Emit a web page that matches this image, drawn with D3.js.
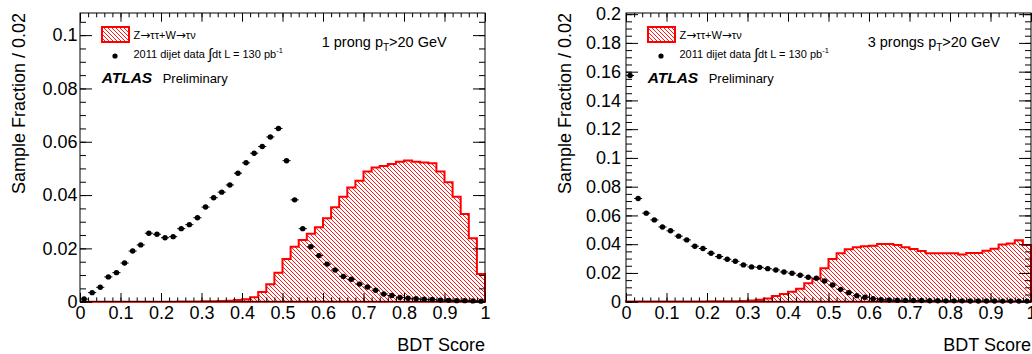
<!DOCTYPE html>
<html>
<head>
<meta charset="utf-8">
<script src="https://cdn.jsdelivr.net/npm/d3@7"></script>
<style>
body { margin: 0; background: #fff; }
svg { display: block; font-family: "Liberation Sans", Arial, sans-serif; }
</style>
</head>
<body>
<svg id="chart" width="1032" height="354"></svg>
<script>
const binWidth = 0.02;

// 1 prong, Z->tautau + W->taunu (hatched histogram)
const signal1p = [
    0, 0, 0, 0, 0, 0, 0, 0, 0, 0,
    0, 0, 0.0001, 0.0001, 0.0001, 0.0002, 0.0002, 0.0003, 0.0004, 0.0006,
    0.0009, 0.0017, 0.0036, 0.0065, 0.0109, 0.0160, 0.0206, 0.0231, 0.0255, 0.0279,
    0.0313, 0.0354, 0.0394, 0.0428, 0.0454, 0.0488, 0.0503, 0.0509, 0.0517, 0.0525,
    0.0530, 0.0525, 0.0522, 0.0519, 0.0488, 0.0448, 0.0394, 0.0329, 0.0238, 0.0104
];
// 1 prong, 2011 dijet data (points)
const data1p = [
    0.0010, 0.0034, 0.0054, 0.0093, 0.0109, 0.0145, 0.0190, 0.0213, 0.0257, 0.0253,
    0.0240, 0.0244, 0.0274, 0.0289, 0.0315, 0.0355, 0.0390, 0.0411, 0.0438, 0.0482,
    0.0521, 0.0557, 0.0582, 0.0618, 0.0650, 0.0529, 0.0382, 0.0274, 0.0206, 0.0173,
    0.0141, 0.0119, 0.0095, 0.0084, 0.0066, 0.0055, 0.0043, 0.0029, 0.0023, 0.0016,
    0.0013, 0.0011, 0.0009, 0.0008, 0.0006, 0.0005, 0.0004, 0.0004, 0.0003, 0.0002
];
// 3 prongs
const signal3p = [
    0.0001, 0.0001, 0.0001, 0.0001, 0.0001, 0.0001, 0.0002, 0.0002, 0.0002, 0.0002,
    0.0003, 0.0003, 0.0003, 0.0004, 0.0005, 0.0008, 0.0014, 0.0023, 0.0040, 0.0053,
    0.0070, 0.0090, 0.0128, 0.0158, 0.0232, 0.0297, 0.0337, 0.0365, 0.0379, 0.0386,
    0.0390, 0.0402, 0.0402, 0.0395, 0.0379, 0.0367, 0.0353, 0.0337, 0.0337, 0.0337,
    0.0337, 0.0328, 0.0339, 0.0339, 0.0355, 0.0369, 0.0397, 0.0404, 0.0427, 0.0395
];
const data3p = [
    0.1573, 0.0718, 0.0616, 0.0569, 0.0520, 0.0493, 0.0456, 0.0430, 0.0386, 0.0370,
    0.0337, 0.0314, 0.0295, 0.0281, 0.0256, 0.0242, 0.0239, 0.0230, 0.0221, 0.0207,
    0.0198, 0.0184, 0.0170, 0.0163, 0.0144, 0.0116, 0.0086, 0.0063, 0.0042, 0.0031,
    0.0021, 0.0014, 0.0012, 0.0010, 0.0009, 0.0008, 0.0008, 0.0007, 0.0007, 0.0006,
    0.0006, 0.0006, 0.0005, 0.0005, 0.0005, 0.0005, 0.0004, 0.0004, 0.0004, 0.0004
];

const xTicks = [0, 0.1, 0.2, 0.3, 0.4, 0.5, 0.6, 0.7, 0.8, 0.9, 1];
const xTickLabels = ["0", "0.1", "0.2", "0.3", "0.4", "0.5", "0.6", "0.7", "0.8", "0.9", "1"];
const yTicks1p = [0, 0.02, 0.04, 0.06, 0.08, 0.1];
const yTickLabels1p = ["0", "0.02", "0.04", "0.06", "0.08", "0.1"];
const yTicks3p = [0, 0.02, 0.04, 0.06, 0.08, 0.1, 0.12, 0.14, 0.16, 0.18, 0.2];
const yTickLabels3p = ["0", "0.02", "0.04", "0.06", "0.08", "0.1", "0.12", "0.14", "0.16", "0.18", "0.2"];

const svg = d3.select("#chart");

// hatch pattern, ROOT style "\\\\"
let pat = svg.append("defs").append("pattern")
    .attr("id", "hatch")
    .attr("patternUnits", "userSpaceOnUse")
    .attr("width", 4).attr("height", 4);
pat.append("path")
    .attr("d", "M-1,3 L1,5 M0,0 L4,4 M3,-1 L5,1")
    .attr("stroke", "#f00")
    .attr("stroke-width", 0.9);

function drawPanel(left, yMax, signal, data, yTicks, yLabels, labelPad, prongText)
{
    let top = 13, bottom = 301.7, width = 405;
    let g = svg.append("g");

    let x = d3.scaleLinear().domain([0, 1]).range([left, left + width]);
    let y = d3.scaleLinear().domain([0, yMax]).range([bottom, top]);

    //histogram outline + hatch
    let pts = [[0, 0]];
    signal.forEach((v, i) => {
        pts.push([i * binWidth, v]);
        pts.push([(i + 1) * binWidth, v]);
    });
    pts.push([1, 0]);
    let line = d3.line().x(d => x(d[0])).y(d => y(d[1]));

    g.append("path")
        .attr("d", line(pts) + "Z")
        .attr("fill", "url(#hatch)")
        .attr("stroke", "#f00")
        .attr("stroke-width", 2)
        .attr("stroke-linejoin", "miter");

    // axes, ticks inside the frame like ROOT
    let font = sel => sel.attr("font-size", 18).attr("font-family", "Liberation Sans, Arial, sans-serif");
    let xMinor = d3.range(0, 1.0001, 0.02);
    let yMinor = d3.range(0, yMax + 0.0001, 0.005);

    g.append("g").attr("transform", "translate(0," + bottom + ")")
        .call(d3.axisBottom(x).tickValues(xTicks).tickFormat((d, i) => xTickLabels[i])
            .tickSize(-8.7).tickPadding(4.5))
        .call(font).call(s => s.select(".domain").remove());
    g.append("g").attr("transform", "translate(0," + bottom + ")")
        .call(d3.axisBottom(x).tickValues(xMinor).tickFormat("").tickSize(-4.3))
        .call(s => s.select(".domain").remove());
    g.append("g").attr("transform", "translate(0," + top + ")")
        .call(d3.axisTop(x).tickValues(xTicks).tickFormat("").tickSize(-8.7))
        .call(s => s.select(".domain").remove());
    g.append("g").attr("transform", "translate(0," + top + ")")
        .call(d3.axisTop(x).tickValues(xMinor).tickFormat("").tickSize(-4.3))
        .call(s => s.select(".domain").remove());

    g.append("g").attr("transform", "translate(" + left + ",0)")
        .call(d3.axisLeft(y).tickValues(yTicks).tickFormat((d, i) => yLabels[i])
            .tickSize(-12).tickPadding(labelPad))
        .call(font).call(s => s.select(".domain").remove());
    g.append("g").attr("transform", "translate(" + left + ",0)")
        .call(d3.axisLeft(y).tickValues(yMinor).tickFormat("").tickSize(-6))
        .call(s => s.select(".domain").remove());
    g.append("g").attr("transform", "translate(" + (left + width) + ",0)")
        .call(d3.axisRight(y).tickValues(yTicks).tickFormat("").tickSize(-12))
        .call(s => s.select(".domain").remove());
    g.append("g").attr("transform", "translate(" + (left + width) + ",0)")
        .call(d3.axisRight(y).tickValues(yMinor).tickFormat("").tickSize(-6))
        .call(s => s.select(".domain").remove());

    g.append("rect")
        .attr("x", left).attr("y", top)
        .attr("width", width).attr("height", bottom - top)
        .attr("fill", "none").attr("stroke", "#000").attr("stroke-width", 1);

    // data points with bin-width error bars
    let pg = g.append("g");
    pg.selectAll("line").data(data).enter().append("line")
        .attr("x1", (d, i) => x(i * binWidth))
        .attr("x2", (d, i) => x((i + 1) * binWidth))
        .attr("y1", d => y(d)).attr("y2", d => y(d))
        .attr("stroke", "#000").attr("stroke-width", 1);
    pg.selectAll("circle").data(data).enter().append("circle")
        .attr("cx", (d, i) => x((i + 0.5) * binWidth))
        .attr("cy", d => y(d))
        .attr("r", 2.7)
        .attr("fill", "#000");

    // axis titles
    g.append("text")
        .attr("transform", "translate(" + (left - 55) + "," + top + ") rotate(-90)")
        .attr("text-anchor", "end")
        .attr("font-size", 18)
        .text("Sample Fraction / 0.02");
    g.append("text")
        .attr("x", left + width).attr("y", 351)
        .attr("text-anchor", "end")
        .attr("font-size", 18)
        .text("BDT Score");

    // legend
    g.append("rect")
        .attr("x", left + 22).attr("y", 27)
        .attr("width", 27).attr("height", 15)
        .attr("fill", "url(#hatch)").attr("stroke", "#f00").attr("stroke-width", 2);
    let z = g.append("text")
        .attr("x", left + 53.5).attr("y", 38.5)
        .attr("font-size", 11);
    let arrow = () => z.append("tspan").attr("font-family", "DejaVu Sans").attr("font-size", 12).text("\u2192");
    z.append("tspan").text("Z");
    arrow();
    z.append("tspan").text("\u03c4\u03c4+W");
    arrow();
    z.append("tspan").text("\u03c4\u03bd");

    g.append("circle")
        .attr("cx", left + 35).attr("cy", 56).attr("r", 2.6).attr("fill", "#000");
    let t = g.append("text")
        .attr("x", left + 53.5).attr("y", 57.5)
        .attr("font-size", 11);
    t.append("tspan").text("2011 dijet data ");
    t.append("tspan").attr("font-size", 15).attr("dy", 1).text("\u222b");
    t.append("tspan").attr("dy", -1).text("dt L = 130 pb");
    t.append("tspan").attr("font-size", 7.5).attr("dy", -5).text("-1");

    g.append("text")
        .attr("x", left + 21.7).attr("y", 82.5)
        .attr("font-size", 15.5)
        .attr("font-weight", "bold")
        .attr("font-style", "italic")
        .text("ATLAS");
    g.append("text")
        .attr("x", left + 82.7).attr("y", 82.5)
        .attr("font-size", 13)
        .text("Preliminary");

    let p = g.append("text")
        .attr("x", left + 241.7).attr("y", 46.5)
        .attr("font-size", 14.5);
    p.append("tspan").text(prongText + " p");
    p.append("tspan").attr("font-size", 10).attr("dy", 4).text("T");
    p.append("tspan").attr("dy", -4).text(">20 GeV");
}

drawPanel(80, 0.1083, signal1p, data1p, yTicks1p, yTickLabels1p, 2.5, "1 prong");
drawPanel(626, 0.2008, signal3p, data3p, yTicks3p, yTickLabels3p, 5, "3 prongs");
</script>
</body>
</html>
